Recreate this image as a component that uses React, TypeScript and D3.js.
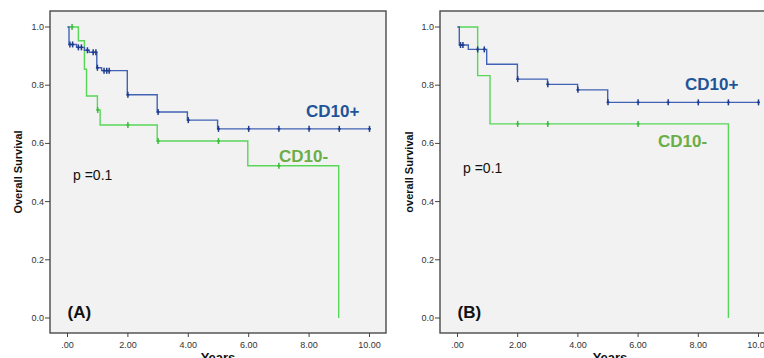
import React from "react";
import * as d3 from "d3";

// axis ticks
const yearTicks = [0, 2, 4, 6, 8, 10];
const yearLabels = [".00", "2.00", "4.00", "6.00", "8.00", "10.00"];
const survTicks = [0, 0.2, 0.4, 0.6, 0.8, 1.0];
const survLabels = ["0.0", "0.2", "0.4", "0.6", "0.8", "1.0"];

// (A) CD10+
const posA_times = [0, 0.05, 0.3, 0.56, 0.72, 0.97, 1.13, 1.98, 2.97, 3.97, 4.97];
const posA_surv = [1.0, 0.94, 0.93, 0.92, 0.913, 0.86, 0.85, 0.767, 0.708, 0.68, 0.65];
const posA_censored = [0.08, 0.17, 0.36, 0.46, 0.66, 0.85, 0.94, 0.99, 1.21, 1.3, 1.38, 2, 3, 4, 5, 6, 7, 8, 9, 10];
const posA_end = 10;

// (A) CD10-
const negA_times = [0, 0.36, 0.56, 0.63, 0.99, 1.08, 2.97, 5.97, 8.98];
const negA_surv = [1.0, 0.953, 0.855, 0.763, 0.715, 0.663, 0.608, 0.523, 0];
const negA_censored = [0.15, 1.0, 2, 3, 5, 7];
const negA_end = 8.98;

// (B) CD10+
const posB_times = [0, 0.06, 0.36, 0.97, 1.99, 2.99, 3.99, 4.99];
const posB_surv = [1.0, 0.938, 0.923, 0.872, 0.821, 0.803, 0.784, 0.741];
const posB_censored = [0.1, 0.18, 0.67, 0.89, 2, 3, 4, 5, 6, 7, 8, 9, 10];
const posB_end = 10;

// (B) CD10-
const negB_times = [0, 0.67, 1.08, 9.0];
const negB_surv = [1.0, 0.833, 0.667, 0];
const negB_censored = [2, 3, 6];
const negB_end = 9.0;

const BLUE = "#4262b4";
const BLUE_MARK = "#1f3c8c";
const GREEN = "#58d658";
const GREEN_MARK = "#3dbb3d";
const BLUE_TEXT = "#1f5597";
const GREEN_TEXT = "#6aae47";
const FONT = "'Liberation Sans', Arial, sans-serif";

type Curve = { times: number[]; surv: number[]; censored: number[]; end: number };

function survAt(c: Curve, t: number) {
  let s = c.surv[0];
  c.times.forEach((tt, i) => {
    if (tt <= t) s = c.surv[i];
  });
  return s;
}

function KMCurve({ c, x, y, color, mark }: { c: Curve; x: any; y: any; color: string; mark: string }) {
  const pts: [number, number][] = c.times.map((t, i) => [t, c.surv[i]]);
  if (c.end > c.times[c.times.length - 1]) pts.push([c.end, c.surv[c.surv.length - 1]]);
  const line = d3
    .line<[number, number]>()
    .x((d) => x(d[0]))
    .y((d) => y(d[1]))
    .curve(d3.curveStepAfter);
  return (
    <g>
      <path d={line(pts) || ""} fill="none" stroke={color} strokeWidth={1.4} />
      {c.censored.map((t, i) => {
        const cx = x(t);
        const cy = y(survAt(c, t));
        return (
          <g key={i} stroke={mark} strokeWidth={1.5}>
            <line x1={cx} x2={cx} y1={cy - 3} y2={cy + 3} />
            <line x1={cx - 1.5} x2={cx + 1.5} y1={cy} y2={cy} />
          </g>
        );
      })}
    </g>
  );
}

type PanelProps = {
  left: number;
  right: number;
  x0: number;
  x10: number;
  pos: Curve;
  neg: Curve;
  tag: string;
  yTitle: string;
  yTitleX: number;
  posLabel: [number, number];
  negLabel: [number, number];
  pLabel: [number, number];
};

function Panel(p: PanelProps) {
  const top = 11;
  const bottom = 333;
  const x = d3.scaleLinear().domain([0, 10]).range([p.x0, p.x10]);
  const y = d3.scaleLinear().domain([0, 1]).range([318, 27]);
  return (
    <g fontFamily={FONT}>
      <rect x={p.left} y={top} width={p.right - p.left} height={bottom - top} fill="#f2f2f2" stroke="#4a4a4a" strokeWidth={1.4} />
      {survTicks.map((v, i) => (
        <g key={i}>
          <line x1={p.left - 5} x2={p.left} y1={y(v)} y2={y(v)} stroke="#444" strokeWidth={1} />
          <text x={p.left - 6} y={y(v) + 3} fontSize={9} fill="#333" textAnchor="end">
            {survLabels[i]}
          </text>
        </g>
      ))}
      {yearTicks.map((v, i) => (
        <g key={i}>
          <line x1={x(v)} x2={x(v)} y1={bottom} y2={bottom + 4} stroke="#444" strokeWidth={1} />
          <text x={x(v)} y={bottom + 15} fontSize={9} fill="#333" textAnchor="middle">
            {yearLabels[i]}
          </text>
        </g>
      ))}
      <text x={(p.left + p.right) / 2} y={362} fontSize={13} fontWeight="bold" textAnchor="middle" fill="#111">
        Years
      </text>
      <text
        transform={`translate(${p.yTitleX},172) rotate(-90)`}
        fontSize={11}
        fontWeight="bold"
        textAnchor="middle"
        fill="#111"
      >
        {p.yTitle}
      </text>
      <KMCurve c={p.neg} x={x} y={y} color={GREEN} mark={GREEN_MARK} />
      <KMCurve c={p.pos} x={x} y={y} color={BLUE} mark={BLUE_MARK} />
      <text x={p.posLabel[0]} y={p.posLabel[1]} fontSize={17} fontWeight="bold" fill={BLUE_TEXT}>
        CD10+
      </text>
      <text x={p.negLabel[0]} y={p.negLabel[1]} fontSize={17} fontWeight="bold" fill={GREEN_TEXT}>
        CD10-
      </text>
      <text x={p.pLabel[0]} y={p.pLabel[1]} fontSize={14} fill="#111">
        p =0.1
      </text>
      <text x={p.x0} y={318} fontSize={17} fontWeight="bold" fill="#111">
        {p.tag}
      </text>
    </g>
  );
}

export default function App() {
  const posA = { times: posA_times, surv: posA_surv, censored: posA_censored, end: posA_end };
  const negA = { times: negA_times, surv: negA_surv, censored: negA_censored, end: negA_end };
  const posB = { times: posB_times, surv: posB_surv, censored: posB_censored, end: posB_end };
  const negB = { times: negB_times, surv: negB_surv, censored: negB_censored, end: negB_end };
  return (
    <svg width={764} height={358} style={{ position: "absolute", left: 0, top: 0, background: "#fff" }}>
      <Panel
        left={50}
        right={386}
        x0={67.5}
        x10={369.5}
        pos={posA}
        neg={negA}
        tag="(A)"
        yTitle="Overall Survival"
        yTitleX={21.5}
        posLabel={[306, 117]}
        negLabel={[279, 162]}
        pLabel={[73, 180]}
      />
      <Panel
        left={440}
        right={780}
        x0={457.5}
        x10={758.5}
        pos={posB}
        neg={negB}
        tag="(B)"
        yTitle="overall Survival"
        yTitleX={413}
        posLabel={[685, 90]}
        negLabel={[658, 147]}
        pLabel={[463, 173]}
      />
    </svg>
  );
}
